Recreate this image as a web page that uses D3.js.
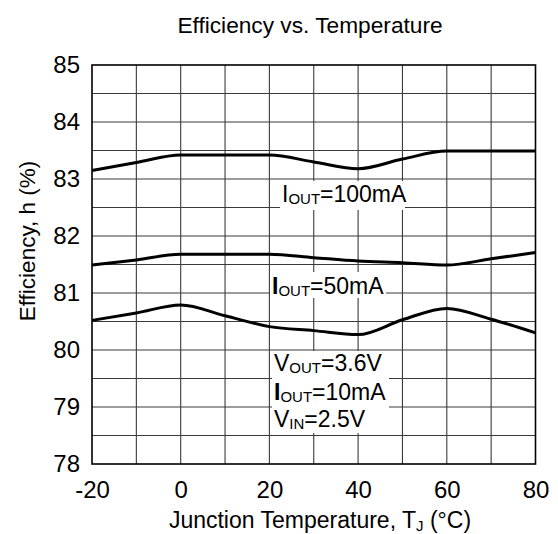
<!DOCTYPE html>
<html>
<head>
<meta charset="utf-8">
<script src="https://cdn.jsdelivr.net/npm/d3@7"></script>
<style>
  html, body { margin: 0; padding: 0; background: #fff; }
  svg { display: block; font-family: "Liberation Sans", Arial, sans-serif; }
</style>
</head>
<body>
<svg id="chart" width="558" height="534"></svg>
<script>
// ---- data ----
const temps = [-20, -10, 0, 10, 20, 30, 40, 50, 60, 70, 80];
const eff100mA = [83.15, 83.29, 83.42, 83.42, 83.42, 83.30, 83.18, 83.35, 83.49, 83.49, 83.49];
const eff50mA  = [81.49, 81.58, 81.68, 81.68, 81.68, 81.62, 81.56, 81.53, 81.49, 81.60, 81.71];
const eff10mA  = [80.52, 80.65, 80.79, 80.60, 80.41, 80.34, 80.27, 80.53, 80.73, 80.54, 80.30];
const xTicks = [-20, 0, 20, 40, 60, 80];
const yTicks = [78, 79, 80, 81, 82, 83, 84, 85];
const xGrid = [-10, 0, 10, 20, 30, 40, 50, 60, 70];
const yGrid = [78.5, 79, 79.5, 80, 80.5, 81, 81.5, 82, 82.5, 83, 83.5, 84, 84.5];
const titleText = "Efficiency vs. Temperature";

const svg = d3.select("#chart");
const x = d3.scaleLinear().domain([-20, 80]).range([92, 535.5]);
const y = d3.scaleLinear().domain([78, 85]).range([464, 65]);

// grid
const grid = svg.append("g");
grid.selectAll("line.v").data(xGrid).join("line")
  .attr("x1", d => x(d)).attr("x2", d => x(d))
  .attr("y1", y(85)).attr("y2", y(78))
  .attr("stroke", "#3a3a3a").attr("stroke-width", 1.1);
grid.selectAll("line.h").data(yGrid).join("line")
  .attr("y1", d => y(d)).attr("y2", d => y(d))
  .attr("x1", x(-20)).attr("x2", x(80))
  .attr("stroke", "#3a3a3a").attr("stroke-width", 1.1);

// annotation boxes (white background)
const boxes = [
  {x0: 280, x1: 405, y0: 181, y1: 210},
  {x0: 270, x1: 386, y0: 272, y1: 298},
  {x0: 272, x1: 389, y0: 351, y1: 433}
];
svg.selectAll("rect.box").data(boxes).join("rect")
  .attr("x", d => d.x0).attr("y", d => d.y0)
  .attr("width", d => d.x1 - d.x0).attr("height", d => d.y1 - d.y0)
  .attr("fill", "#fff");

// curves
const line = d3.line().x(d => x(d[0])).y(d => y(d[1])).curve(d3.curveMonotoneX);
[eff100mA, eff50mA, eff10mA].forEach(s => {
  svg.append("path")
    .attr("d", line(temps.map((t, i) => [t, s[i]])))
    .attr("fill", "none").attr("stroke", "#000").attr("stroke-width", 3)
    .attr("stroke-linejoin", "round");
});

// frame
svg.append("rect")
  .attr("x", x(-20)).attr("y", y(85))
  .attr("width", x(80) - x(-20)).attr("height", y(78) - y(85))
  .attr("fill", "none").attr("stroke", "#000").attr("stroke-width", 1.6);

// axes labels
const yAxis = d3.axisLeft(y).tickValues(yTicks).tickSize(0).tickPadding(12).tickFormat(d => String(d));
const gy = svg.append("g").attr("transform", `translate(${x(-20)},0)`).call(yAxis);
gy.select(".domain").remove();
gy.selectAll("text").attr("font-size", 24).attr("fill", "#000")
  .attr("font-family", "Liberation Sans, Arial, sans-serif");

const xAxis = d3.axisBottom(x).tickValues(xTicks).tickSize(0).tickPadding(17).tickFormat(d => String(d));
const gx = svg.append("g").attr("transform", `translate(0,${y(78)})`).call(xAxis);
gx.select(".domain").remove();
gx.selectAll("text").attr("font-size", 24).attr("fill", "#000")
  .attr("font-family", "Liberation Sans, Arial, sans-serif");

// title
svg.append("text").attr("x", 310).attr("y", 33).attr("text-anchor", "middle")
  .attr("font-size", 22.7).text(titleText);

// y title
svg.append("text").attr("transform", "translate(35,241) rotate(-90)")
  .attr("text-anchor", "middle").attr("font-size", 22.5).text("Efficiency, h (%)");

// x title
const xt = svg.append("text").attr("x", 320).attr("y", 528).attr("text-anchor", "middle")
  .attr("font-size", 23);
xt.append("tspan").text("Junction Temperature, T");
xt.append("tspan").attr("font-size", 15).attr("dy", 3).text("J");
xt.append("tspan").attr("dy", -3).text(" (°C)");

// annotations
function label(tx, ty, main, sub, rest, boldMain) {
  const t = svg.append("text").attr("x", tx).attr("y", ty).attr("font-size", 23);
  t.append("tspan").attr("font-weight", boldMain ? "bold" : "normal").text(main);
  t.append("tspan").attr("font-size", 15).attr("dy", 2).text(sub);
  t.append("tspan").attr("dy", -2).text(rest);
}
label(282, 202, "I", "OUT", "=100mA", false);
label(272, 294, "I", "OUT", "=50mA", true);
label(274, 371, "V", "OUT", "=3.6V", false);
label(274, 400, "I", "OUT", "=10mA", true);
label(274, 427, "V", "IN", "=2.5V", false);
</script>
</body>
</html>
